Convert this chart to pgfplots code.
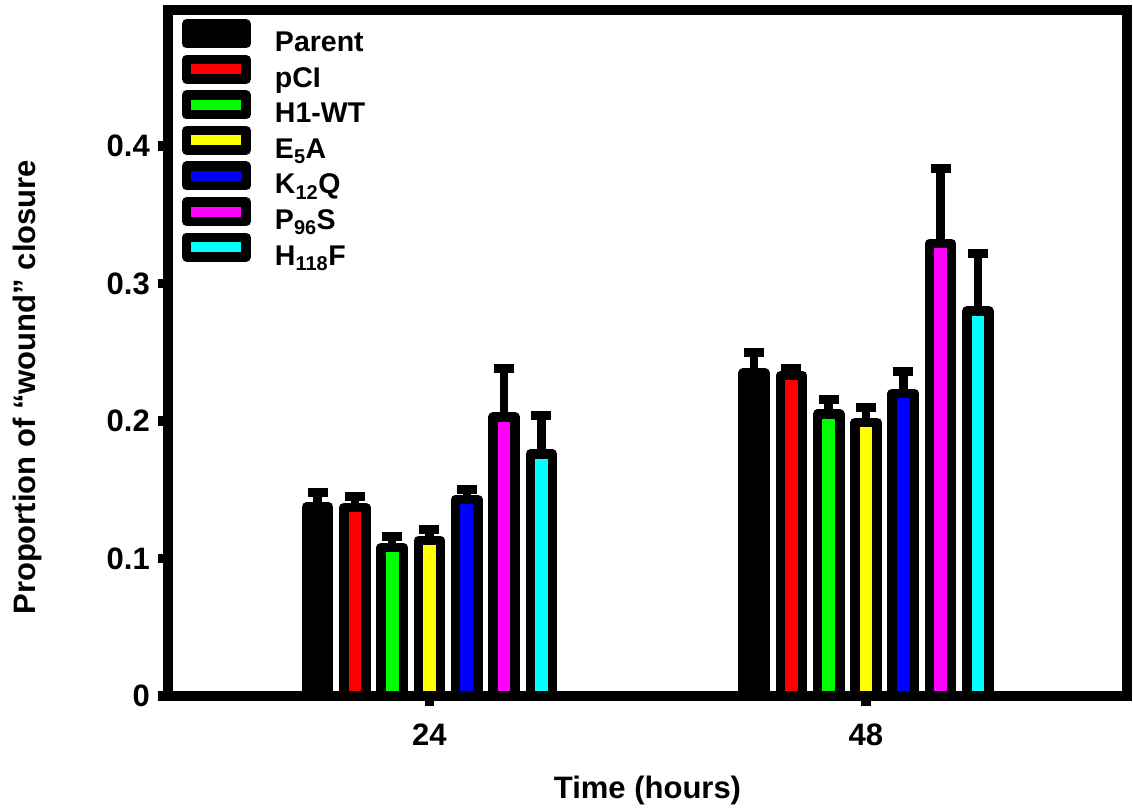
\documentclass[border=0pt]{standalone}
\usepackage{fontspec}
\setmainfont{Liberation Sans}
\usepackage{pgfplots}
\pgfplotsset{compat=1.18}
\usetikzlibrary{calc}
\newcommand\axfont{\fontsize{31}{31}\selectfont\bfseries}
\definecolor{cGreen}{RGB}{0,255,0}
\definecolor{cYellow}{RGB}{255,255,0}
\definecolor{cBlue}{RGB}{0,0,255}
\definecolor{cMagenta}{RGB}{255,0,255}
\definecolor{cCyan}{RGB}{0,255,255}
\definecolor{cRed}{RGB}{255,0,0}

\begin{document}
\begin{tikzpicture}
\begin{axis}[
    scale only axis,
    width=959pt, height=686pt,
    xmin=0.401, xmax=2.598,
    ymin=0, ymax=0.499,
    ybar=15.1pt, bar width=22.2pt,
    xtick={1,2}, xticklabels={24,48},
    ytick={0,0.1,0.2,0.3,0.4}, yticklabels={0,0.1,0.2,0.3,0.4},
    tick align=outside, xtick pos=bottom, ytick pos=left,
    major tick length=10pt,
    tick style={line width=9.5pt, black},
    axis line style={line width=9.5pt},
    ticklabel style={font=\axfont, inner sep=0pt},
    yticklabel style={anchor=east, xshift=-8pt},
    xticklabel style={anchor=north, yshift=-18pt},
    xlabel={Time (hours)},
    ylabel={Proportion of “wound” closure},
    xlabel style={at={(axis description cs:0.5,-0.1487)}, anchor=base, font=\axfont},
    ylabel style={at={(axis description cs:-0.138,0.45)}, anchor=base, font=\axfont},
    error bars/y dir=plus, error bars/y explicit,
    error bars/error mark=-,
    error bars/error bar style={line width=8.5pt, draw=black},
    error bars/error mark options={rotate=90, line width=9pt, mark size=10pt, draw=black},
    legend style={draw=none, fill=none, inner sep=0pt, outer sep=0pt,
        at={(axis description cs:0,1)}, anchor=north west,
        xshift=14pt, yshift=-9.3pt,
        font=\fontsize{28.5}{28.5}\selectfont\bfseries,
        cells={anchor=base west}, nodes={inner sep=0pt, text depth=0pt},
        row sep=3.05pt, column sep=24pt},
    legend image code/.code={\draw[#1, line width=9.5pt, line join=round] (0pt,8.25pt) rectangle (59.5pt,27.75pt);},
    bar style/.style={draw=black, line width=9.5pt, line join=round},
]
\addplot[fill=black, bar style] coordinates {(1,0.1375) +- (0,0.0105) (2,0.235) +- (0,0.015)};
\addplot[fill=cRed, bar style] coordinates {(1,0.137) +- (0,0.008) (2,0.233) +- (0,0.0055)};
\addplot[fill=cGreen, bar style] coordinates {(1,0.108) +- (0,0.008) (2,0.205) +- (0,0.0105)};
\addplot[fill=cYellow, bar style] coordinates {(1,0.113) +- (0,0.008) (2,0.199) +- (0,0.011)};
\addplot[fill=cBlue, bar style] coordinates {(1,0.143) +- (0,0.007) (2,0.220) +- (0,0.016)};
\addplot[fill=cMagenta, bar style] coordinates {(1,0.203) +- (0,0.035) (2,0.329) +- (0,0.055)};
\addplot[fill=cCyan, bar style] coordinates {(1,0.176) +- (0,0.028) (2,0.280) +- (0,0.042)};
\legend{Parent, pCI, H1-WT, E\textsubscript{5}A, K\textsubscript{12}Q, P\textsubscript{96}S, H\textsubscript{118}F}
\coordinate (SW) at (rel axis cs:0,0);
\coordinate (NE) at (rel axis cs:1,1);
\end{axis}
\pgfresetboundingbox
\path ($(SW)+(-168pt,-111pt)$) rectangle ($(NE)+(6pt,10pt)$);
\end{tikzpicture}
\end{document}
